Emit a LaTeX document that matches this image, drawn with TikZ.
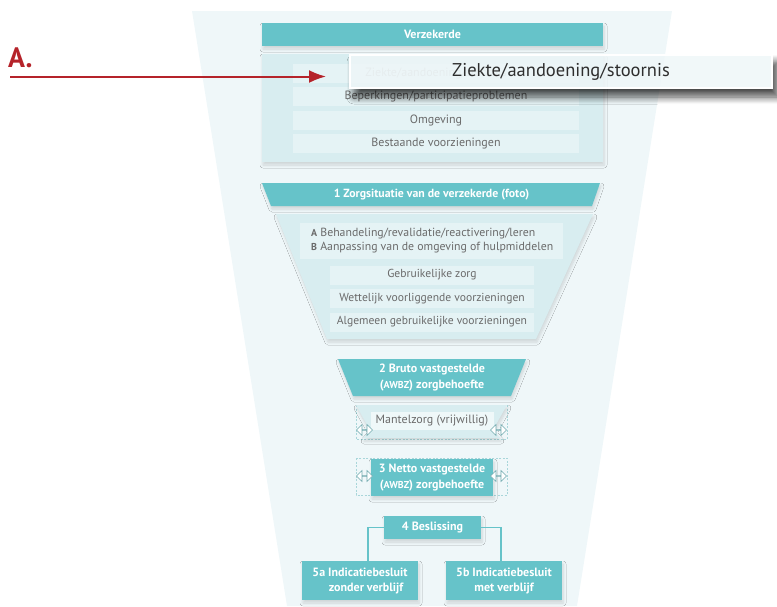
\documentclass[tikz,border=0pt]{standalone}
\usepackage{fontspec}
\setmainfont{PT Sans}
\usetikzlibrary{shadows.blur,shapes.arrows,calc,arrows.meta}
\definecolor{tealc}{HTML}{66C3C9}
\definecolor{bgc}{HTML}{EFF7F9}
\definecolor{panelc}{HTML}{D8EDF0}
\definecolor{rowc}{HTML}{E5F3F5}
\definecolor{txtc}{HTML}{6A6A6A}
\definecolor{redc}{HTML}{B5232A}
\definecolor{arrc}{HTML}{6FA9AE}
\definecolor{popc}{HTML}{EEF6F8}
\definecolor{dashc}{HTML}{A9D6DA}
\tikzset{
  sh/.style={blur shadow={shadow blur steps=6, shadow xshift=1pt, shadow yshift=-3pt, shadow opacity=14, shadow blur radius=3pt}},
  tealbox/.style={fill=tealc, text=white, font=\fontsize{12}{15}\selectfont\bfseries, inner sep=0pt, align=center, sh},
  rowbox/.style={fill=rowc, text=txtc, font=\fontsize{12}{13}\selectfont, inner sep=0pt, minimum height=19pt},
  lbl/.style={inner sep=0pt, align=center},
  dbl/.style={double arrow, draw=arrc, fill=white, line width=0.6pt, minimum width=11pt, minimum height=16pt, double arrow head extend=3.5pt, inner sep=0pt},
  dashbox/.style={draw=dashc, dash pattern=on 2pt off 1.5pt, line width=0.5pt},
  link/.style={draw=tealc, line width=1.6pt}
}
\newcommand{\sm}[1]{{\fontsize{10}{10}\selectfont #1}}
\begin{document}
\begin{tikzpicture}[x=1pt,y=-1pt]
\useasboundingbox (0,0) rectangle (777,606);
% background funnel
\fill[bgc] (192,11) -- (672,11) -- (577,606) -- (287,606) -- cycle;

% Verzekerde block
\node[tealbox, minimum width=341pt, minimum height=23pt] (verz) at (432.5,34.5) {Verzekerde};
\node[fill=panelc, sh, inner sep=0pt, minimum width=341pt, minimum height=108pt] (panel) at (432.5,108) {};
\node[rowbox, minimum width=286pt, text=txtc!40] (r1) at (436,73.5) {Ziekte/aandoening/stoornis};
\node[rowbox, minimum width=286pt] (r2) at (436,96.5) {Beperkingen/participatieproblemen};
\node[rowbox, minimum width=286pt] (r3) at (436,120.5) {Omgeving};
\node[rowbox, minimum width=286pt] (r4) at (436,143.5) {Bestaande voorzieningen};

% A. arrow
\node[lbl, text=redc, font=\fontsize{28}{30}\selectfont\bfseries, anchor=south west] (alab) at (8,68) {A.};
\coordinate (astart) at (10,76.5);
\coordinate (aend) at (326,76.5);
\draw[redc, line width=2pt, -{Latex[length=17pt,width=13pt]}] (astart) -- (aend);

% popup
\begin{scope}[even odd rule]
  \clip (0,0) rectangle (777,606) (349,54) rectangle (773,89);
  \path[blur shadow={shadow blur steps=10, shadow xshift=5pt, shadow yshift=-8pt, shadow opacity=70, shadow blur radius=7pt}] (349,54) rectangle (773,89);
\end{scope}
\node[draw=white, line width=2pt, fill=popc, fill opacity=0.82, text opacity=1, text=black!82, font=\fontsize{18.5}{20}\selectfont, inner sep=0pt, minimum width=422pt, minimum height=33pt] (popup) at (561,71.5) {Ziekte/aandoening/stoornis};

% 1 Zorgsituatie
\fill[tealc, sh] (262,183) -- (600,183) -- (592,206) -- (271,206) -- cycle;
\node[lbl, text=white, font=\fontsize{11.8}{13}\selectfont\bfseries] (zorg) at (431.5,194.5) {1 Zorgsituatie van de verzekerde (foto)};
\fill[panelc, sh] (276,214) -- (593,214) -- (536,339) -- (327,339) -- cycle;
\node[fill=rowc, inner sep=0pt, minimum width=263pt, minimum height=36pt] (ab) at (431.5,241) {};
\node[lbl, anchor=west, align=left, text=txtc, font=\fontsize{11.8}{14}\selectfont] (abt) at (311,240.5) {\textbf{\sm{A}} Behandeling/revalidatie/reactivering/leren\\\textbf{\sm{B}} Aanpassing van de omgeving of hulpmiddelen};
\node[rowbox, minimum width=204pt, font=\fontsize{11.6}{13}\selectfont] (g1) at (432,275) {Gebruikelijke zorg};
\node[rowbox, minimum width=204pt, font=\fontsize{11.6}{13}\selectfont] (g2) at (432,298.5) {Wettelijk voorliggende voorzieningen};
\node[rowbox, minimum width=204pt, font=\fontsize{11.6}{13}\selectfont] (g3) at (432,322) {Algemeen gebruikelijke voorzieningen};

% 2 Bruto
\fill[tealc, sh] (338,359) -- (526,359) -- (511,396) -- (353,396) -- cycle;
\node[lbl, text=white, font=\fontsize{12}{16}\selectfont\bfseries] (bruto) at (432,377.5) {2 Bruto vastgestelde\\(\sm{AWBZ}) zorgbehoefte};

% Mantelzorg
\draw[dashbox] (356,405) rectangle (507,439);
\fill[panelc, sh] (356,405) -- (507,405) -- (493,430) -- (500,438) -- (363,438) -- (370,430) -- cycle;
\node[rowbox, fill=rowc!60!white, minimum width=123pt, minimum height=18pt] (mant) at (432,421) {Mantelzorg (vrijwillig)};
\node[dbl] (d1) at (364.5,430) {};
\node[dbl] (d2) at (498.5,430) {};

% 3 Netto
\draw[dashbox] (356,458) rectangle (507,495);
\node[tealbox, minimum width=122pt, minimum height=37pt, font=\fontsize{12}{16}\selectfont\bfseries] (netto) at (432,477.5) {3 Netto vastgestelde\\(\sm{AWBZ}) zorgbehoefte};
\node[dbl] (d3) at (364.5,476) {};
\node[dbl] (d4) at (498.5,476) {};

% 4 Beslissing and 5a/5b
\node[tealbox, minimum width=97pt, minimum height=23pt] (besl) at (432.5,527.5) {4 Beslissing};
\node[tealbox, minimum width=116pt, minimum height=39pt] (b5a) at (360,580.5) {5a Indicatiebesluit\\\hspace*{1em}zonder verblijf};
\node[tealbox, minimum width=116pt, minimum height=39pt] (b5b) at (504,580.5) {5b Indicatiebesluit\\met verblijf};
\draw[link] (besl.west) -| ([xshift=8pt]b5a.north);
\draw[link] (besl.east) -| ([xshift=-3pt]b5b.north);
\end{tikzpicture}
\end{document}
